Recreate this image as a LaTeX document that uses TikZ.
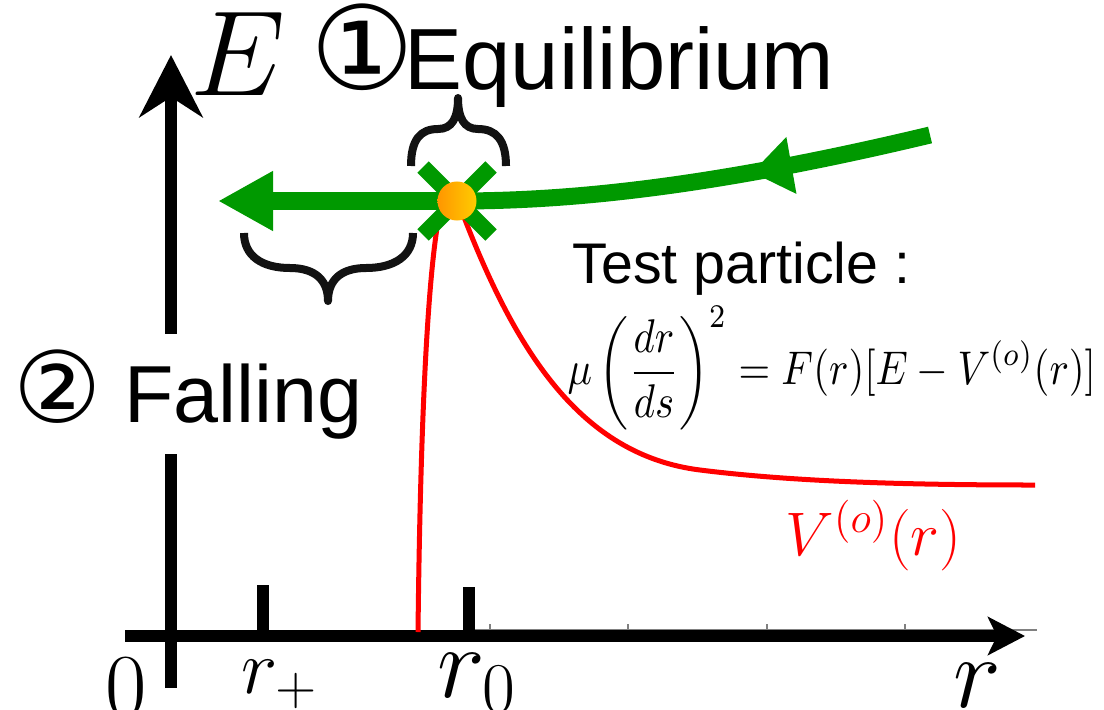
\RequirePackage{fix-cm}
\documentclass[tikz,border=0pt]{standalone}
\usepackage{fontspec}
\setsansfont{Liberation Sans}
\newfontfamily\circfont{DejaVu Sans}
\usepackage{graphicx}
\usetikzlibrary{arrows.meta,decorations.markings}
\definecolor{pathgreen}{RGB}{0,153,0}
\definecolor{dotorange}{RGB}{255,150,0}
\definecolor{dotyellow}{RGB}{255,204,0}

\begin{document}
\begin{tikzpicture}[x=0.01cm, y=-0.01cm,
    axis/.style={line width=0.12cm},
    bracestroke/.style={line width=0.08cm, line join=round, black!93},
    flow/.style={pathgreen, line width=0.17cm},
    lbl/.style={inner sep=0pt, anchor=base west, font=\sffamily}]
    \useasboundingbox (0,0) rectangle (1104,709);

    % Axes
    \coordinate (xl) at (125,636);
    \coordinate (xr) at (1025,636);
    \coordinate (yb) at (171,688);
    \coordinate (yt) at (171,55);
    \draw[gray, line width=0.3pt] (470,630) -- (1037,630);
    \foreach \x in {490,628,767,905}
        \draw[gray, line width=0.3pt] (\x,630) -- (\x,624);
    \draw[axis, -{Stealth[length=0.62cm, width=0.63cm, inset=0.2cm]}] (yb) -- (yt);
    \draw[axis, -{Stealth[length=0.37cm, width=0.38cm, inset=0.09cm]}] (xl) -- (xr);
    \draw[axis] (263,636) -- (263,585);
    \draw[axis] (469,636) -- (469,587);

    % Axis labels
    \node[inner sep=0pt, anchor=base] (zero) at (126,716) {\fontsize{25.6}{30}\selectfont 0};
    \node[lbl] (rplus) at (241,693) {\fontsize{22}{26}\selectfont$r_+$};
    \node[lbl] (rzero) at (437,697) {\fontsize{29}{34}\selectfont$r_0$};
    \node[lbl] (rlab) at (953,707) {\fontsize{29}{34}\selectfont$r$};
    \node[lbl] (Elab) at (190,95) {\fontsize{34.5}{40}\selectfont$E$};

    % Potential
    \draw[red, line width=0.05cm] (418,632) .. controls (420,450) and (426,300) .. (437,228)
        .. controls (441,202) and (454,192) .. (462,212)
        .. controls (515,350) and (580,455) .. (700,470)
        .. controls (780,480) and (880,485) .. (1035,485);
    \node[lbl, red] (vlab) at (785,555) {\fontsize{17.5}{21}\selectfont$V^{(o)}(r)$};

    % Trajectory of the particle
    \coordinate (eqc) at (457,201);
    \coordinate (gstart) at (930,135);
    \coordinate (gend) at (218,201);
    \draw[flow, postaction={decorate}, decoration={markings, mark=at position 0.38 with {\arrow{Triangle[length=0.4cm, width=0.55cm]}}}]
        (gstart) .. controls (700,190) and (560,201) .. (eqc);
    \draw[flow, -{Triangle[length=0.55cm, width=0.56cm]}] (eqc) -- (gend);
    \draw[pathgreen, line width=0.16cm] (eqc) ++(-34,-34) -- ++(68,68);
    \draw[pathgreen, line width=0.16cm] (eqc) ++(34,-34) -- ++(-68,68);
    \node[circle, minimum size=0.39cm, inner sep=0pt, left color=dotorange, right color=dotyellow] (eq) at (eqc) {};

    % Braces
    \draw[bracestroke] (411,166) .. controls (411,140) and (420,129) .. (438,129)
        .. controls (452,129) and (458,118) .. (458,98)
        .. controls (458,118) and (464,129) .. (478,129)
        .. controls (496,129) and (506,140) .. (506,166);
    \draw[bracestroke] (244,233) .. controls (244,256) and (262,268) .. (290,268)
        .. controls (315,268) and (328,280) .. (328,301)
        .. controls (328,280) and (341,268) .. (366,268)
        .. controls (394,268) and (413,256) .. (413,233);

    % Texts
    \node[lbl] (equil) at (310,89) {{\circfont\fontsize{33}{36}\selectfont ①}\kern-0.1cm\fontsize{24.7}{30}\selectfont Equilibrium};
    \node[lbl, fill=white, inner xsep=0pt, inner ysep=0.15cm] (fall) at (13,422) {{\circfont\fontsize{28}{32}\selectfont ②}\fontsize{23}{28}\selectfont\ Falling};
    \node[lbl] (test) at (572,283) {\fontsize{16.3}{20}\selectfont Test particle :};
    \node[inner sep=0pt, anchor=west] (eom) at (567,368) {\resizebox*{5.28cm}{1.23cm}{$\displaystyle\mu\left(\frac{dr}{ds}\right)^{2}=F(r)[E-V^{(o)}(r)]$}};
\end{tikzpicture}
\end{document}
